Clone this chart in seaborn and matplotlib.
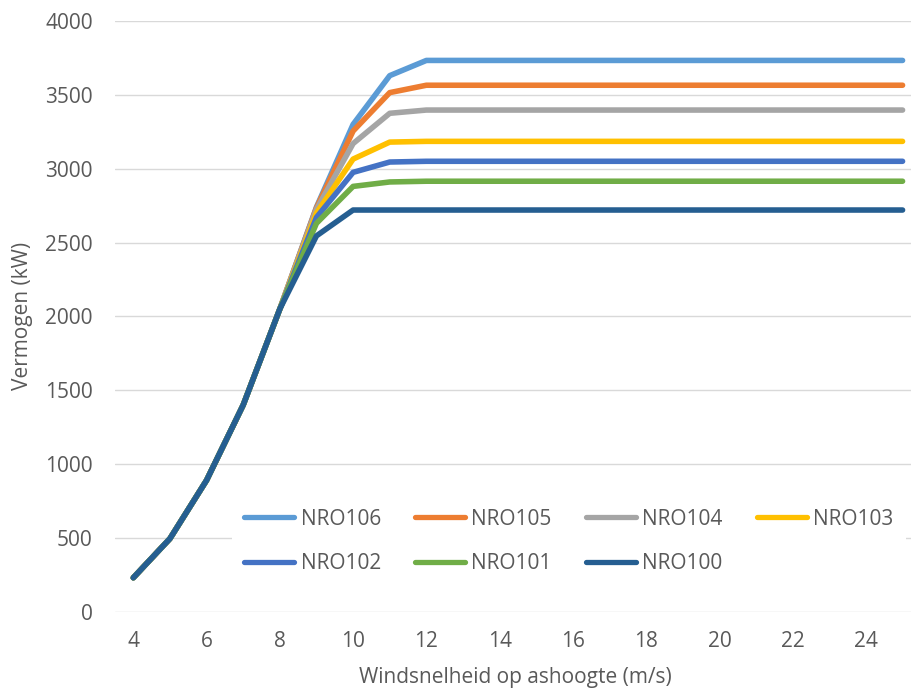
import numpy as np
import pandas as pd
import matplotlib
matplotlib.use("Agg")
import matplotlib.pyplot as plt
import seaborn as sns
from matplotlib.lines import Line2D

wind = list(range(4, 26))
series_names = ["NRO106", "NRO105", "NRO104", "NRO103", "NRO102", "NRO101", "NRO100"]
ramp = [230, 495, 890, 1400, 2050]
NRO106 = ramp + [2740, 3300, 3630] + [3733] * 14
NRO105 = ramp + [2735, 3255, 3515] + [3565] * 14
NRO104 = ramp + [2725, 3170, 3375] + [3397] * 14
NRO103 = ramp + [2700, 3065, 3180] + [3185] * 14
NRO102 = ramp + [2670, 2975, 3045] + [3050] * 14
NRO101 = ramp + [2630, 2880, 2910] + [2915] * 14
NRO100 = ramp + [2545, 2720, 2720] + [2720] * 14
colors = ["#5B9BD5", "#ED7D31", "#A5A5A5", "#FFC000", "#4472C4", "#70AD47", "#255E91"]

values = {"NRO106": NRO106, "NRO105": NRO105, "NRO104": NRO104, "NRO103": NRO103,
          "NRO102": NRO102, "NRO101": NRO101, "NRO100": NRO100}
rows = []
for name in series_names:
    for x, v in zip(wind, values[name]):
        rows.append({"wind": x, "power": v, "type": name})
df = pd.DataFrame(rows)

sns.set_theme(style="white")
plt.rcParams["font.family"] = ["Open Sans", "DejaVu Sans"]
FS = 15.0

fig = plt.figure(figsize=(9.11, 6.93), dpi=100)
ax = fig.add_axes([115 / 911, 1 - 611.7 / 693, 1 - 115 / 911, (611.7 - 21) / 693])

sns.lineplot(data=df, x="wind", y="power", hue="type", hue_order=series_names,
             palette=dict(zip(series_names, colors)), linewidth=4,
             solid_capstyle="round", ax=ax, legend=False)

ax.set_xlim(3.5, 25.23)
ax.set_ylim(0, 4000)
ax.set_xticks(range(4, 25, 2))
ax.set_yticks(range(0, 4001, 500))
ax.yaxis.grid(True, color="#D9D9D9", linewidth=1.0)
ax.set_axisbelow(True)
for s in ax.spines.values():
    s.set_visible(False)
ax.tick_params(axis="both", length=0, labelsize=FS, colors="#595959")
ax.tick_params(axis="x", pad=14)
ax.tick_params(axis="y", pad=16)
ax.set_xlabel("Windsnelheid op ashoogte (m/s)", fontsize=FS, color="#595959")
ax.set_ylabel("Vermogen (kW)", fontsize=FS, color="#595959")
ax.xaxis.set_label_coords(0.5035, (611.7 - 667) / 590.7)
ax.yaxis.set_label_coords((33 - 115) / 796, 0.5)

order = ["NRO106", "NRO102", "NRO105", "NRO101", "NRO104", "NRO100", "NRO103"]
hs = [Line2D([0], [0], color=colors[series_names.index(n)], linewidth=3.8,
             solid_capstyle="round") for n in order]
leg = ax.legend(hs, order, ncol=4, loc="center",
                bbox_to_anchor=(569 / 911, 1 - 541.5 / 693), bbox_transform=fig.transFigure,
                frameon=True, facecolor="white", edgecolor="none", framealpha=1,
                fontsize=FS, handlelength=2.4, handletextpad=0.3,
                columnspacing=1.65, labelspacing=1.14, borderpad=0.6)
for t in leg.get_texts():
    t.set_color("#595959")

fig.savefig("out.png", dpi=100)
